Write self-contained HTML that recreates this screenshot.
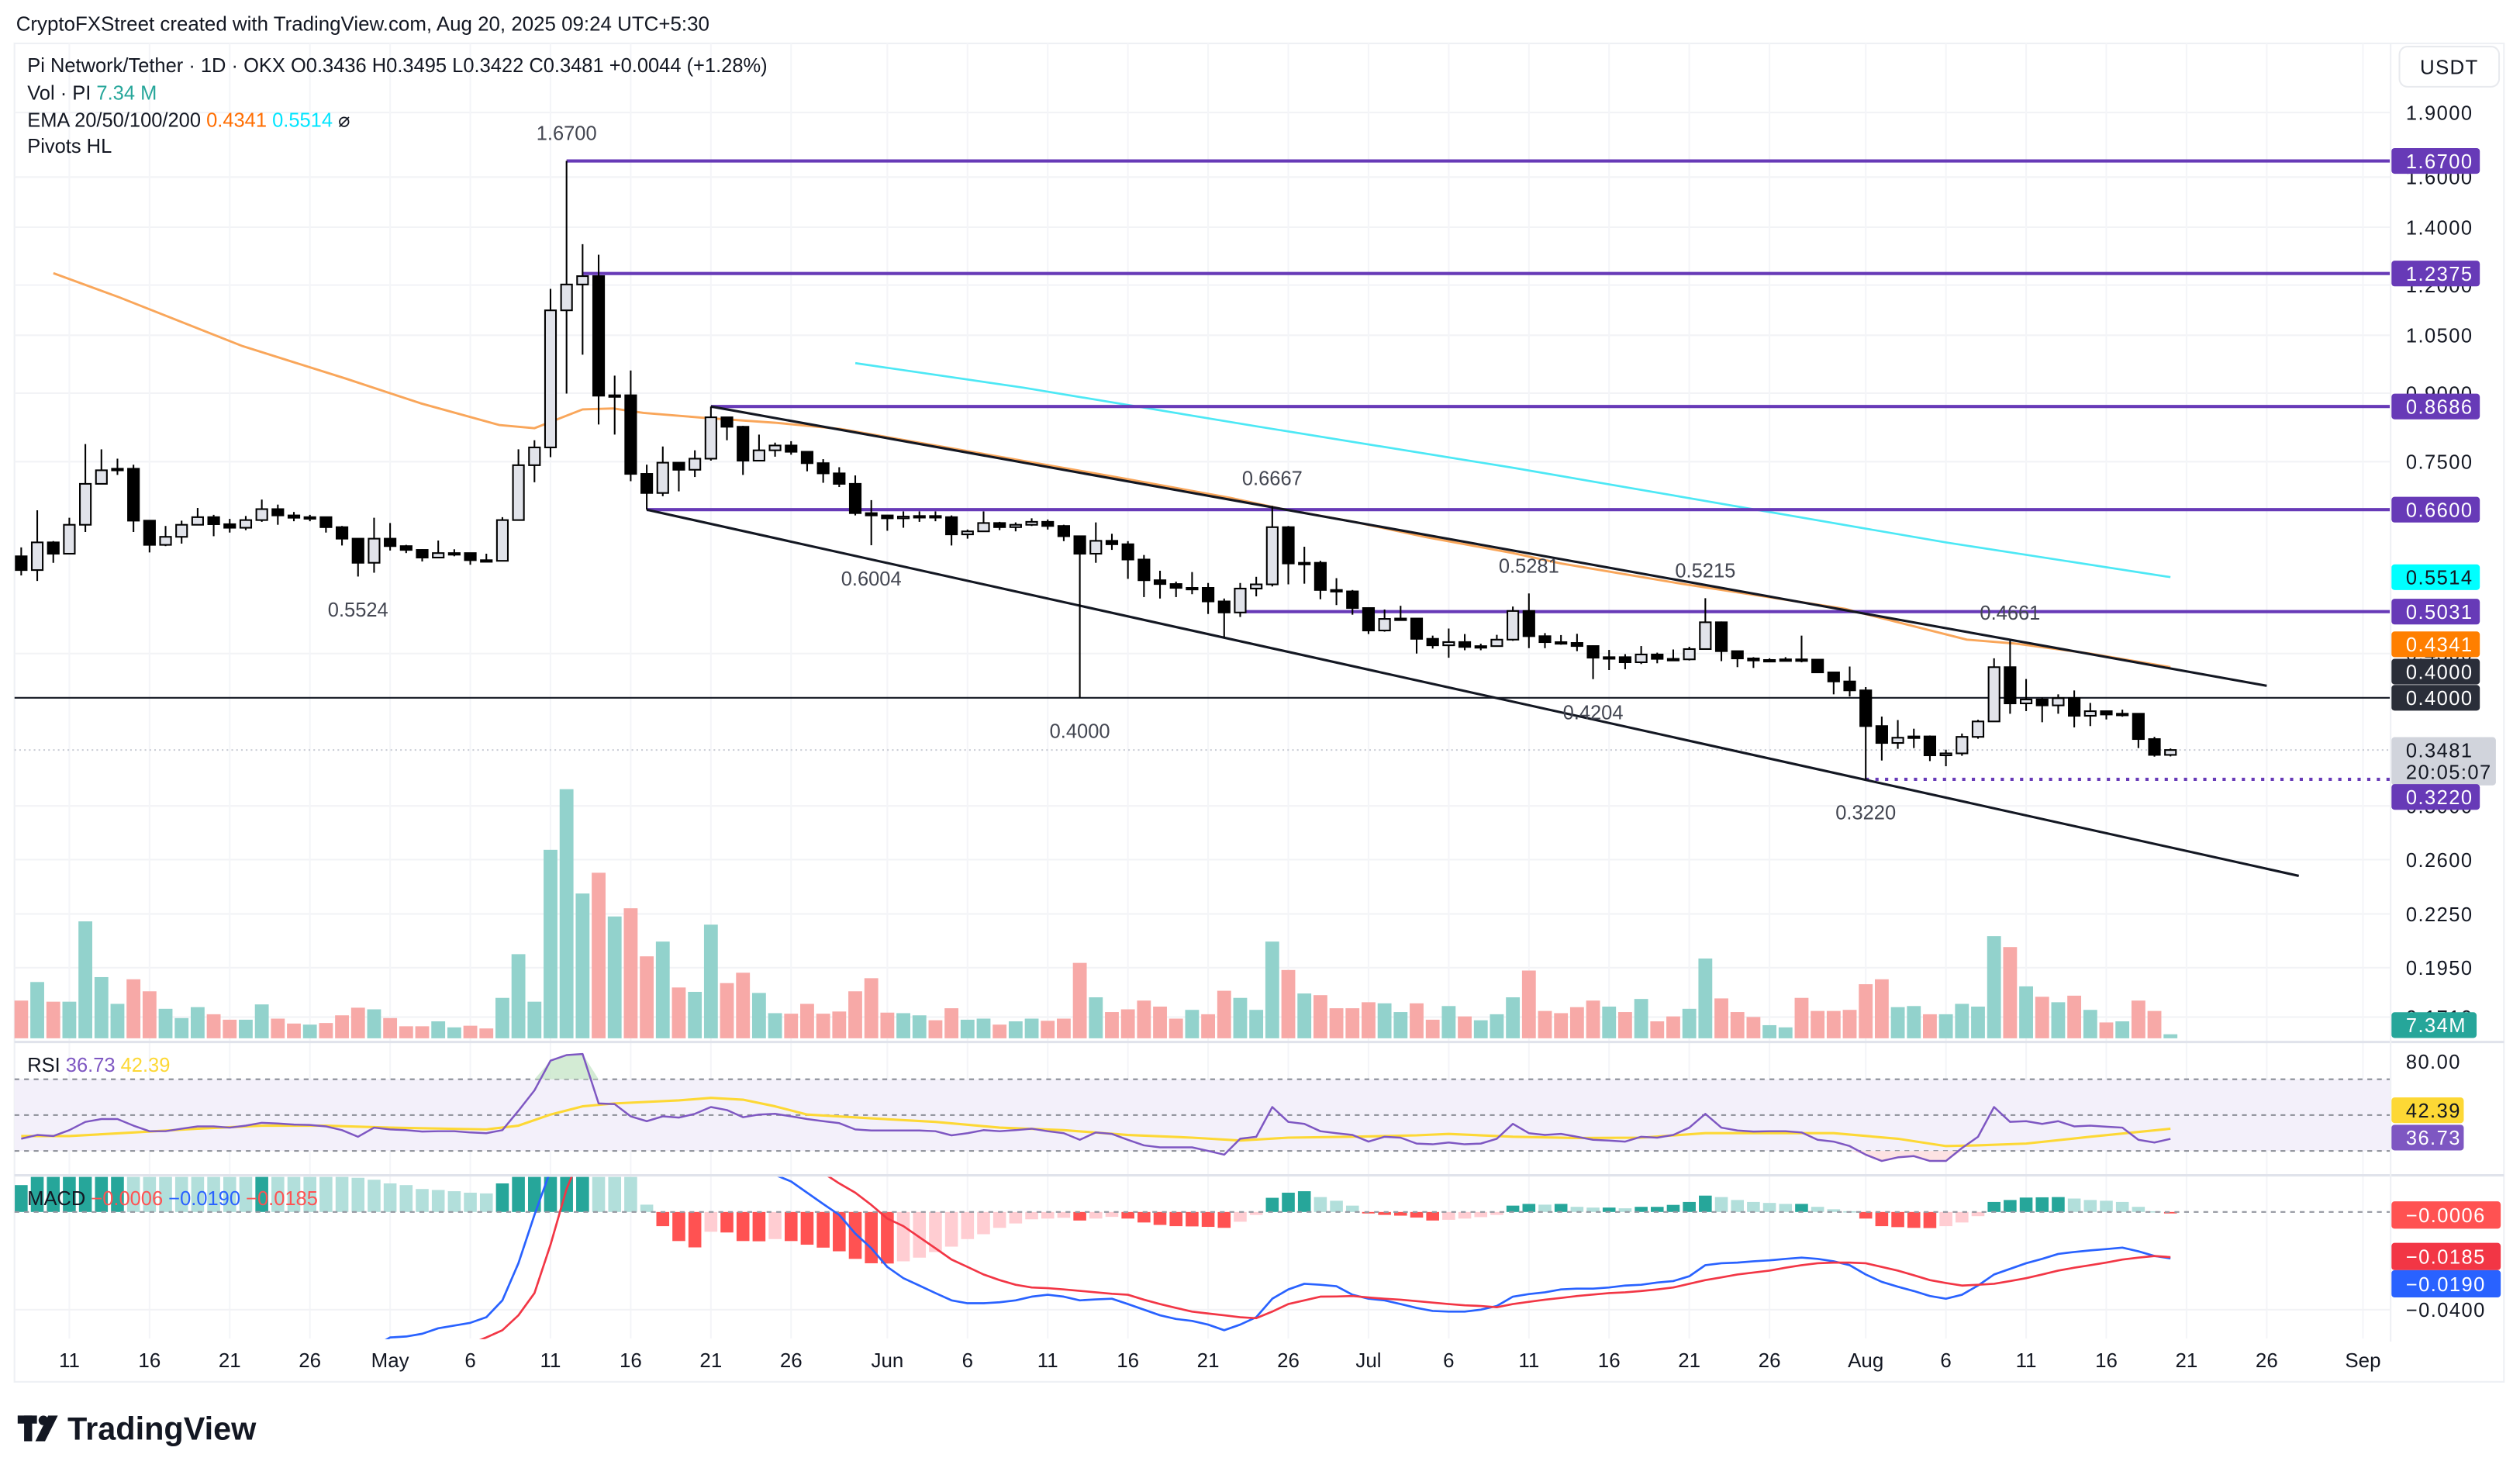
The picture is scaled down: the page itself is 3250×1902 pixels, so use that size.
<!DOCTYPE html>
<html><head><meta charset="utf-8"><title>PI/USDT chart</title>
<style>
html,body{margin:0;padding:0;background:#fff;}
svg{display:block;font-family:"Liberation Sans",sans-serif;}
</style></head>
<body>
<svg id="c" xmlns="http://www.w3.org/2000/svg" viewBox="0 0 1568 918" width="3250" height="1902" preserveAspectRatio="none">
<rect x="0" y="0" width="1568" height="918" fill="#ffffff"/>
<text x="10" y="19" font-size="12.5" fill="#131722">CryptoFXStreet created with TradingView.com, Aug 20, 2025 09:24 UTC+5:30</text>
<rect x="9" y="27" width="1549" height="833" fill="none" stroke="#eef0f4" stroke-width="1"/>
<g id="grid"></g>
<g id="price"></g>
<g id="rsi"></g>
<g id="macd"></g>
<g id="axis"></g>
<line x1="9" y1="648.5" x2="1558" y2="648.5" stroke="#e0e3eb" stroke-width="1.5"/>
<line x1="9" y1="731.5" x2="1558" y2="731.5" stroke="#e0e3eb" stroke-width="1.5"/>
<line x1="1487.5" y1="27" x2="1487.5" y2="835" stroke="#eef0f4" stroke-width="1"/>
<g font-size="12.3" fill="#131722">
<text x="17" y="45">Pi Network/Tether · 1D · OKX  O0.3436  H0.3495  L0.3422  C0.3481  +0.0044 (+1.28%)</text>
<text x="17" y="62">Vol · PI <tspan fill="#26a69a">7.34 M</tspan></text>
<text x="17" y="79">EMA 20/50/100/200 <tspan fill="#ff6d00">0.4341</tspan> <tspan fill="#00e5ff">0.5514</tspan> ⌀</text>
<text x="17" y="95">Pivots HL</text>
</g>
<rect x="1493" y="29" width="62" height="25" rx="5" fill="#fff" stroke="#e8eaee"/>
<text x="1524" y="46" font-size="12.5" text-anchor="middle" fill="#131722" letter-spacing="0.6">USDT</text>
<g>
<rect x="11" y="881" width="12" height="5" fill="#131722"/><rect x="15" y="881" width="5" height="16" fill="#131722"/>
<circle cx="27" cy="884" r="3" fill="#131722"/><polygon points="30,881 36,881 28,897 22,897" fill="#131722"/>
<text x="42" y="896" font-size="20" font-weight="bold" fill="#131722">TradingView</text>
</g>
</svg>
<script>
// ---------- DATA ----------
const firstOpen = 0.583;
const closes = [0.562,0.605,0.587,0.634,0.707,0.733,0.736,0.641,0.601,0.614,0.634,0.647,0.635,0.629,0.642,0.661,0.650,0.646,0.647,0.630,0.611,0.573,0.611,0.599,0.593,0.581,0.588,0.588,0.577,0.576,0.642,0.743,0.779,1.122,1.202,1.229,0.894,0.895,0.726,0.690,0.748,0.734,0.756,0.844,0.823,0.752,0.773,0.783,0.770,0.747,0.727,0.707,0.654,0.650,0.645,0.648,0.649,0.647,0.618,0.623,0.637,0.630,0.634,0.639,0.632,0.615,0.587,0.6075,0.602,0.578,0.547,0.5415,0.536,0.536,0.517,0.502,0.535,0.541,0.630,0.572,0.573,0.533,0.531,0.508,0.4785,0.4935,0.494,0.468,0.460,0.464,0.458,0.459,0.467,0.504,0.4713,0.4639,0.4629,0.4591,0.4451,0.4457,0.4397,0.4489,0.4437,0.4431,0.4554,0.4891,0.4529,0.4442,0.4418,0.4424,0.4431,0.4428,0.428,0.4178,0.408,0.371,0.3547,0.3597,0.3609,0.3432,0.345,0.3605,0.3756,0.434,0.3941,0.3982,0.392,0.3996,0.3813,0.386,0.3826,0.3834,0.3584,0.3436,0.3481];
const highs = [0.597,0.659,0.607,0.646,0.786,0.775,0.756,0.744,0.642,0.632,0.641,0.663,0.651,0.644,0.649,0.678,0.669,0.656,0.651,0.647,0.632,0.611,0.646,0.637,0.601,0.594,0.608,0.594,0.587,0.587,0.647,0.775,0.794,1.188,1.67,1.338,1.301,0.943,0.956,0.744,0.781,0.749,0.773,0.8686,0.844,0.825,0.806,0.789,0.792,0.771,0.755,0.739,0.723,0.677,0.651,0.657,0.657,0.657,0.650,0.626,0.657,0.639,0.638,0.645,0.643,0.634,0.615,0.638,0.619,0.607,0.585,0.561,0.545,0.559,0.543,0.521,0.543,0.552,0.6667,0.632,0.598,0.576,0.550,0.533,0.509,0.506,0.511,0.494,0.472,0.481,0.474,0.462,0.473,0.510,0.5281,0.4752,0.4727,0.4743,0.460,0.4544,0.4493,0.4591,0.4511,0.4549,0.4582,0.5215,0.4901,0.4525,0.4457,0.4443,0.4457,0.472,0.4418,0.4286,0.4347,0.4116,0.3805,0.377,0.3684,0.3618,0.3484,0.3637,0.3773,0.4443,0.4661,0.4205,0.4003,0.4037,0.4079,0.3946,0.3868,0.3876,0.3834,0.3605,0.3495];
const lows = [0.554,0.546,0.573,0.587,0.622,0.708,0.724,0.622,0.589,0.599,0.603,0.635,0.615,0.621,0.625,0.639,0.634,0.640,0.640,0.621,0.600,0.5524,0.558,0.592,0.588,0.575,0.580,0.583,0.570,0.575,0.576,0.642,0.710,0.759,0.899,0.997,0.828,0.806,0.712,0.660,0.684,0.693,0.720,0.752,0.794,0.724,0.751,0.760,0.764,0.731,0.709,0.701,0.650,0.6004,0.624,0.629,0.639,0.640,0.600,0.611,0.622,0.625,0.623,0.632,0.626,0.607,0.400,0.573,0.593,0.549,0.523,0.521,0.523,0.527,0.500,0.470,0.496,0.524,0.538,0.541,0.542,0.520,0.512,0.499,0.474,0.477,0.492,0.450,0.456,0.445,0.454,0.454,0.459,0.4655,0.4566,0.4565,0.4607,0.4529,0.4204,0.4307,0.4316,0.4376,0.4385,0.4418,0.4418,0.4562,0.4410,0.434,0.4331,0.4403,0.4418,0.4396,0.428,0.4037,0.4014,0.322,0.3385,0.3492,0.3499,0.338,0.3334,0.3428,0.3587,0.3759,0.3834,0.3861,0.3748,0.3834,0.3697,0.371,0.3776,0.3804,0.3499,0.342,0.3422];
const volumes = [69,103,67,67,214,112,63,108,86,54,37,57,44,34,34,62,36,27,25,28,42,56,53,37,22,22,31,20,23,18,74,154,67,345,456,265,303,223,238,150,177,93,85,208,101,120,83,46,45,63,45,49,86,110,47,46,42,33,55,34,36,25,31,36,32,36,138,75,48,53,69,58,36,52,44,87,74,52,177,125,82,79,55,55,66,64,48,64,34,59,40,33,44,75,124,50,46,57,69,58,48,72,31,40,54,146,73,48,39,24,20,74,50,50,52,99,108,57,59,44,44,63,58,187,167,95,76,66,78,52,29,31,69,50,7.34];
const rsiValues = [36.8,38.9,38.3,41.6,46.2,47.8,47.8,44.1,41.0,41.0,42.4,43.7,43.7,43.0,44.1,45.7,45.3,44.7,44.5,43.7,41.6,37.9,43.0,42.0,41.6,40.8,41.0,41.0,40.3,39.9,41.6,52.4,63.8,80.4,83.5,84.1,56.5,56.1,49.3,46.6,49.3,48.6,50.7,54.5,52.8,48.8,50.3,50.7,49.3,47.8,46.6,45.5,42.0,41.4,41.4,41.4,41.4,41.0,38.7,39.9,41.6,41.0,41.6,42.4,41.0,39.9,36.2,40.3,39.5,36.2,33.1,32.0,32.0,32.0,30.0,27.9,36.8,37.9,54.5,46.2,45.1,41.0,39.9,38.9,35.2,37.9,37.4,34.1,33.7,34.7,33.7,34.1,36.8,45.1,39.9,38.9,39.5,37.9,36.2,35.8,35.2,37.9,37.4,38.9,43.0,50.7,43.0,41.4,40.8,41.0,41.0,40.3,36.2,35.2,32.7,27.9,24.4,26.4,27.1,24.4,24.4,31.6,37.9,54.5,46.2,46.6,45.1,46.6,43.7,44.1,43.5,43.0,36.2,34.7,36.73];
const rsiMaIdx = [0,3,7,11,15,19,23,29,31,33,35,37,41,43,45,47,49,53,57,61,65,69,73,76,79,83,87,89,93,97,101,105,109,113,117,120,122,125,129,134];
const rsiMaVal = [38.3,38.3,40.3,42.4,44.1,44.1,43.0,42.0,44.1,50.3,54.9,56.5,58.2,59.6,58.6,54.9,50.3,48.2,46.2,43.0,41.6,38.9,37.4,35.8,37.4,37.9,38.7,39.5,37.9,37.2,37.4,39.9,39.9,39.9,36.8,32.7,33.1,34.1,37.9,42.39];
const macdLine = [-0.09,-0.088,-0.086,-0.084,-0.082,-0.08,-0.079,-0.078,-0.077,-0.076,-0.075,-0.074,-0.073,-0.072,-0.071,-0.07,-0.068,-0.066,-0.064,-0.062,-0.06,-0.058,-0.055,-0.0514,-0.051,-0.0499,-0.0476,-0.0465,-0.0454,-0.0431,-0.0362,-0.021,-0.0012,0.017,0.035,0.05,0.055,0.055,0.052,0.05,0.045,0.042,0.038,0.035,0.03,0.025,0.02,0.0152,0.0125,0.0079,0.0033,-0.0012,-0.0088,-0.0149,-0.0225,-0.0271,-0.0301,-0.0332,-0.0362,-0.0374,-0.0374,-0.037,-0.0362,-0.0347,-0.0339,-0.0347,-0.0362,-0.0358,-0.0355,-0.0377,-0.04,-0.0423,-0.0438,-0.0446,-0.0461,-0.0484,-0.0461,-0.0431,-0.0355,-0.0317,-0.0294,-0.0298,-0.0304,-0.0339,-0.0355,-0.0362,-0.0377,-0.0393,-0.0405,-0.0408,-0.0408,-0.04,-0.0385,-0.0347,-0.0336,-0.0329,-0.0317,-0.0314,-0.0314,-0.0309,-0.0301,-0.0298,-0.0289,-0.0283,-0.0263,-0.0218,-0.021,-0.0207,-0.0202,-0.0198,-0.0192,-0.0187,-0.0192,-0.0202,-0.0218,-0.0256,-0.0286,-0.0306,-0.0324,-0.0344,-0.0355,-0.0339,-0.0301,-0.0256,-0.0233,-0.021,-0.0192,-0.0172,-0.0164,-0.0157,-0.0152,-0.0146,-0.0161,-0.018,-0.019];
const signalLine = [-0.11,-0.108,-0.106,-0.104,-0.102,-0.1,-0.098,-0.096,-0.094,-0.092,-0.09,-0.088,-0.086,-0.084,-0.082,-0.08,-0.078,-0.076,-0.074,-0.072,-0.07,-0.068,-0.066,-0.064,-0.062,-0.06,-0.058,-0.056,-0.054,-0.0514,-0.0484,-0.0423,-0.0332,-0.0134,0.0094,0.025,0.035,0.04,0.042,0.042,0.041,0.04,0.038,0.035,0.032,0.028,0.024,0.021,0.019,0.0175,0.016,0.0117,0.0079,0.0029,-0.0027,-0.0058,-0.0103,-0.0149,-0.0195,-0.0225,-0.0256,-0.0279,-0.0298,-0.0309,-0.0312,-0.0317,-0.0323,-0.0329,-0.0335,-0.0339,-0.0359,-0.0377,-0.0393,-0.0408,-0.0416,-0.0423,-0.0431,-0.0435,-0.0408,-0.0377,-0.0362,-0.0347,-0.0346,-0.0344,-0.035,-0.0355,-0.0359,-0.0365,-0.0371,-0.0377,-0.0382,-0.0385,-0.039,-0.0377,-0.0368,-0.0359,-0.0352,-0.0344,-0.0338,-0.0332,-0.0329,-0.0324,-0.0317,-0.0309,-0.0294,-0.0279,-0.0268,-0.0256,-0.0248,-0.024,-0.0228,-0.0218,-0.021,-0.0207,-0.0207,-0.021,-0.0225,-0.024,-0.0259,-0.0279,-0.0291,-0.0301,-0.0298,-0.0294,-0.0283,-0.0271,-0.0256,-0.024,-0.0228,-0.0218,-0.0207,-0.0195,-0.0187,-0.018,-0.0185];
const histValues = [0.011,0.02,0.021,0.022,0.022,0.023,0.024,0.022,0.021,0.02,0.019,0.018,0.017,0.016,0.0155,0.017,0.0165,0.016,0.0158,0.0155,0.015,0.014,0.0132,0.0117,0.011,0.0094,0.009,0.0085,0.0079,0.0076,0.0117,0.02,0.025,0.03,0.035,0.038,0.03,0.025,0.018,0.003,-0.0058,-0.0119,-0.0145,-0.0081,-0.0084,-0.0119,-0.012,-0.0111,-0.0119,-0.0134,-0.0146,-0.0161,-0.0192,-0.021,-0.0211,-0.0202,-0.0187,-0.0164,-0.0142,-0.0111,-0.0091,-0.0065,-0.0047,-0.003,-0.0027,-0.0024,-0.0035,-0.0027,-0.002,-0.0027,-0.0043,-0.0053,-0.0058,-0.0059,-0.0061,-0.0065,-0.004,-0.0012,0.0058,0.0079,0.0085,0.0061,0.0046,0.0026,-0.0006,-0.0012,-0.0015,-0.0023,-0.0035,-0.0032,-0.0027,-0.0021,-0.0012,0.0026,0.0033,0.003,0.0033,0.0021,0.0018,0.0018,0.0015,0.0021,0.0021,0.0029,0.0041,0.0067,0.0061,0.0049,0.0041,0.0037,0.0033,0.0033,0.0021,0.0011,0.0003,-0.0027,-0.0058,-0.0062,-0.0065,-0.0066,-0.0058,-0.0043,-0.0017,0.0041,0.0049,0.0059,0.006,0.0061,0.0055,0.0049,0.0046,0.0041,0.0021,0.0003,-0.0006];
const ema100Idx = [2,6.1,13.8,20.2,24.9,29.8,32,35,36.9,38.8,42.5,47,51.1,63.1,68.6,75.4,78.5,83.1,87.7,93,96,103.5,113.7,121.3,124.4,129,134];
const ema100Val = [1.239,1.162,1.020,0.936,0.876,0.827,0.820,0.862,0.864,0.854,0.843,0.832,0.818,0.748,0.718,0.681,0.662,0.639,0.613,0.588,0.572,0.542,0.507,0.467,0.462,0.450,0.4341];
const ema200Idx = [52,62.5,77,93,120,134];
const ema200Val = [0.975,0.913,0.824,0.738,0.605,0.5514];
const levelStartIdx = [34,35,43,39,76];
const levelValues = [1.67,1.2375,0.8686,0.66,0.5031];
const pivotIdx = [34,21,53,66,78,94,98,105,124,115];
const pivotType = ['H','L','L','L','H','H','L','H','H','L'];
const priceTicks = [1.9,1.6,1.4,1.2,1.05,0.9,0.75,0.45,0.3,0.26,0.225,0.195,0.171];
const dateLabels = ['11','16','21','26','May','6','11','16','21','26','Jun','6','11','16','21','26','Jul','6','11','16','21','26','Aug','6','11','16','21','26','Sep'];
const dateIdx = [3,8,13,18,23,28,33,38,43,48,54,59,64,69,74,79,84,89,94,99,104,109,115,120,125,130,135,140,146];
const channelUpper = [[43,0.8686],[140,0.413]];
const channelLower = [[39,0.66],[142,0.249]];
const supportLevel = 0.4;
const lastLow = 0.322;
// ---------- SCALES ----------
const NS='http://www.w3.org/2000/svg';
const svg=document.getElementById('c');
const LN19=Math.log(1.9);
function Y(p){return 70+(LN19-Math.log(p))*233.8;}
function X(i){return 13.2+9.98*i;}
function VY(v){return 646.2-v*0.34;}
function RY(v){return 716.3-(v-30)*1.115;}
function MY(v){return 754.3-v*1520;}
const PR=1487;
function mk(tag,attrs,parent){const e=document.createElementNS(NS,tag);for(const k in attrs)e.setAttribute(k,attrs[k]);parent.appendChild(e);return e;}
const defs=mk('defs',{},svg);
const cp1=mk('clipPath',{id:'clipP'},defs);mk('rect',{x:9,y:27,width:PR-9,height:621},cp1);
const cp2=mk('clipPath',{id:'clipR'},defs);mk('rect',{x:9,y:649,width:PR-9,height:82},cp2);
const cp3=mk('clipPath',{id:'clipM'},defs);mk('rect',{x:9,y:732.5,width:PR-9,height:101},cp3);
const grid=document.getElementById('grid');
const gP=document.getElementById('price');gP.setAttribute('clip-path','url(#clipP)');
const gR=document.getElementById('rsi');gR.setAttribute('clip-path','url(#clipR)');
const gM=document.getElementById('macd');gM.setAttribute('clip-path','url(#clipM)');
const gA=document.getElementById('axis');
// grid
priceTicks.forEach(t=>{
  const l=mk('line',{x1:9,x2:PR,y1:Y(t),y2:Y(t),stroke:'#f2f3f6','stroke-width':1},grid);
  
  
});
dateIdx.forEach((d,k)=>{
  const l=mk('line',{x1:X(d),x2:X(d),y1:27,y2:833,stroke:'#f4f5f8','stroke-width':1},grid);
  
  
  const t=mk('text',{x:X(d),y:851,'font-size':12.5,'text-anchor':'middle',fill:'#131722'},svg);
  t.textContent=dateLabels[k];
  
  
});
// volume
closes.forEach((c,i)=>{
  const o=i?closes[i-1]:firstOpen;
  const up=c>=o;
  const r=mk('rect',{x:X(i)-4.3,y:VY(volumes[i]),width:8.6,height:646.2-VY(volumes[i]),fill:up?'#92d2cc':'#f7a9a7'},gP);
  
  
});
// EMA lines
function poly(idx,val,g,color,w,name){
  const pts=idx.map((d,k)=>X(d).toFixed(1)+','+Y(val[k]).toFixed(1)).join(' ');
  const p=mk('polyline',{points:pts,fill:'none',stroke:color,'stroke-width':w,'stroke-linejoin':'round'},g);
  
  
}
poly(ema200Idx,ema200Val,gP,'#4de8f5',1.3,'ema-200-line');
poly(ema100Idx,ema100Val,gP,'#f9a65a',1.4,'ema-100-line');
// levels
levelValues.forEach((v,k)=>{
  const l=mk('line',{x1:X(levelStartIdx[k]),x2:PR,y1:Y(v),y2:Y(v),stroke:'#673ab7','stroke-width':2},gP);
  
  
});
const sl=mk('line',{x1:9,x2:PR,y1:Y(supportLevel),y2:Y(supportLevel),stroke:'#131722','stroke-width':1},gP);


const ll=mk('line',{x1:X(115),x2:PR,y1:Y(lastLow),y2:Y(lastLow),stroke:'#673ab7','stroke-width':2,'stroke-dasharray':'2 4'},gP);


const cl=mk('line',{x1:9,x2:PR,y1:Y(closes[closes.length-1]),y2:Y(closes[closes.length-1]),stroke:'#c8cbd4','stroke-width':1,'stroke-dasharray':'1 2'},gP);


[channelUpper,channelLower].forEach((ch,k)=>{
  const l=mk('line',{x1:X(ch[0][0]),y1:Y(ch[0][1]),x2:X(ch[1][0]),y2:Y(ch[1][1]),stroke:'#131722','stroke-width':1.5},gP);
  
  
});
// candles
closes.forEach((c,i)=>{
  const o=i?closes[i-1]:firstOpen;
  const up=c>=o;
  const x=X(i);
  const w=mk('line',{x1:x,x2:x,y1:Y(highs[i]),y2:Y(lows[i]),stroke:'#000','stroke-width':1},gP);
  
  
  const top=Y(Math.max(o,c)),bot=Y(Math.min(o,c));
  const b=mk('rect',{x:x-3.4,y:top,width:6.8,height:Math.max(1,bot-top),fill:up?'#e1e3ea':'#000',stroke:'#000','stroke-width':1},gP);
  
  
});
// pivot labels
pivotIdx.forEach((d,k)=>{
  const v=pivotType[k]==='H'?highs[d]:lows[d];
  const yy=pivotType[k]==='H'?Y(v)-13:Y(v)+25;
  const t=mk('text',{x:X(d),y:yy,'font-size':12.3,'text-anchor':'middle',fill:'#434651'},gP);
  t.textContent=v.toFixed(4);
  
  
});
// price axis labels
priceTicks.forEach(t=>{
  const tx=mk('text',{x:1497,y:Y(t)+4.5,'font-size':12.3,fill:'#131722','letter-spacing':0.7},gA);
  tx.textContent=t.toFixed(4);
  
  
});
function tag(y,text,bg,fg,w,h,name){
  const r=mk('rect',{x:1488,y:y-h/2,width:w,height:h,rx:2,fill:bg},gA);
  
  
  const t=mk('text',{x:1497,y:y+4.5,'font-size':12.3,fill:fg,'letter-spacing':0.7},gA);
  t.textContent=text;
  
  
}
levelValues.forEach(v=>tag(Y(v),v.toFixed(4),'#673ab7','#fff',55,16,'level-price-tag'));
tag(Y(ema200Val[ema200Val.length-1]),ema200Val[ema200Val.length-1].toFixed(4),'#00ffff','#131722',55,16,'ema-200-tag');
tag(418,'0.4000','#2a2e39','#fff',55,16,'trendline-tag');
tag(Y(supportLevel),supportLevel.toFixed(4),'#2a2e39','#fff',55,16,'support-tag');
tag(401,ema100Val[ema100Val.length-1].toFixed(4),'#ff7f00','#fff',55,16,'ema-100-tag');
(function(){const y=Y(closes[closes.length-1]);
 const r=mk('rect',{x:1488,y:y-8,width:65,height:30,rx:2,fill:'#d1d4dc'},gA);
 
 
 const t=mk('text',{x:1497,y:y+4.5,'font-size':12.3,fill:'#131722','letter-spacing':0.7},gA);t.textContent=closes[closes.length-1].toFixed(4);
 
 
 const t2=mk('text',{x:1497,y:y+18,'font-size':12.3,fill:'#131722','letter-spacing':0.7},gA);t2.textContent='20:05:07';
 
 })();
tag(Y(lastLow)+11,lastLow.toFixed(4),'#673ab7','#fff',55,16,'low-price-tag');
tag(638,'7.34M','#26a69a','#fff',53,16,'volume-tag');
// RSI pane
(function(){
 const bg=mk('rect',{x:9,y:RY(70),width:PR-9,height:RY(30)-RY(70),fill:'#f3f0fa'},gR);
 
 
 [70,50,30].forEach(v=>{
  const l=mk('line',{x1:9,x2:PR,y1:RY(v),y2:RY(v),stroke:'#8a8d96','stroke-width':1,'stroke-dasharray':'3 3'},gR);
  
  
 });
 const ob=mk('polygon',{points:[31,32,33,34,35,36].map(i=>X(i)+','+RY(Math.max(70,rsiValues[i]))).join(' ')+' '+X(36)+','+RY(70)+' '+X(32)+','+RY(70),fill:'#c8e6c9',opacity:0.8},gR);
 
 
 const os=mk('polygon',{points:[114,115,116,117,118,119,120,121,122].map(i=>X(i)+','+RY(Math.min(30,rsiValues[i]))).join(' '),fill:'#fde0e0',opacity:0.9},gR);
 
 
 const ma=mk('polyline',{points:rsiMaIdx.map((d,k)=>X(d)+','+RY(rsiMaVal[k])).join(' '),fill:'none',stroke:'#fdd835','stroke-width':1.5,'stroke-linejoin':'round'},gR);
 
 
 const rl=mk('polyline',{points:rsiValues.map((v,i)=>X(i)+','+RY(v)).join(' '),fill:'none',stroke:'#7e57c2','stroke-width':1.2,'stroke-linejoin':'round'},gR);
 
 
 const t=mk('text',{x:1497,y:RY(80)+4.5,'font-size':12.3,fill:'#131722','letter-spacing':0.7},gA);t.textContent='80.00';
 
 
 tag(691,rsiMaVal[rsiMaVal.length-1].toFixed(2),'#fdd835','#131722',45,16,'rsi-ma-tag');
 tag(708,rsiValues[rsiValues.length-1].toFixed(2),'#7e57c2','#fff',45,16,'rsi-tag');
 const lg=mk('text',{x:17,y:667,'font-size':12.3,fill:'#131722'},svg);
 lg.innerHTML='RSI <tspan fill="#7e57c2">36.73</tspan> <tspan fill="#fdd835">42.39</tspan>';
 
 
})();
// MACD pane
(function(){
 histValues.forEach((v,i)=>{
  const prev=i?histValues[i-1]:v;
  let col;
  if(v>=0) col=v>=prev?'#26a69a':'#b2dfdb'; else col=v<prev?'#ff5252':'#ffcdd2';
  const y0=MY(0),y1=MY(v);
  const r=mk('rect',{x:X(i)-4,y:Math.min(y0,y1),width:8,height:Math.max(0.8,Math.abs(y1-y0)),fill:col},gM);
  
  
 });
 const z=mk('line',{x1:9,x2:PR,y1:MY(0),y2:MY(0),stroke:'#9598a1','stroke-width':1,'stroke-dasharray':'3 3'},gM);
 
 
 const g2=mk('line',{x1:9,x2:PR,y1:MY(-0.04),y2:MY(-0.04),stroke:'#f2f3f6','stroke-width':1},gM);
 
 
 const ml=mk('polyline',{points:macdLine.map((v,i)=>X(i)+','+MY(v).toFixed(1)).join(' '),fill:'none',stroke:'#2962ff','stroke-width':1.3,'stroke-linejoin':'round'},gM);
 
 
 const sg=mk('polyline',{points:signalLine.map((v,i)=>X(i)+','+MY(v).toFixed(1)).join(' '),fill:'none',stroke:'#f23645','stroke-width':1.3,'stroke-linejoin':'round'},gM);
 
 
 const t=mk('text',{x:1497,y:MY(-0.04)+4.5,'font-size':12.3,fill:'#131722','letter-spacing':0.7},gA);t.textContent='−0.0400';
 
 
 tag(MY(histValues[histValues.length-1])+1,'−0.0006','#ff5252','#fff',68,17,'macd-hist-tag');
 tag(782,'−0.0185','#f23645','#fff',68,17,'signal-tag');
 tag(799,'−0.0190','#2962ff','#fff',68,17,'macd-tag');
 const lg=mk('text',{x:17,y:750,'font-size':12.3,fill:'#131722'},svg);
 lg.innerHTML='MACD <tspan fill="#ff5252">−0.0006</tspan> <tspan fill="#2962ff">−0.0190</tspan> <tspan fill="#ff5252">−0.0185</tspan>';
 
 
})();
</script>
</body></html>
